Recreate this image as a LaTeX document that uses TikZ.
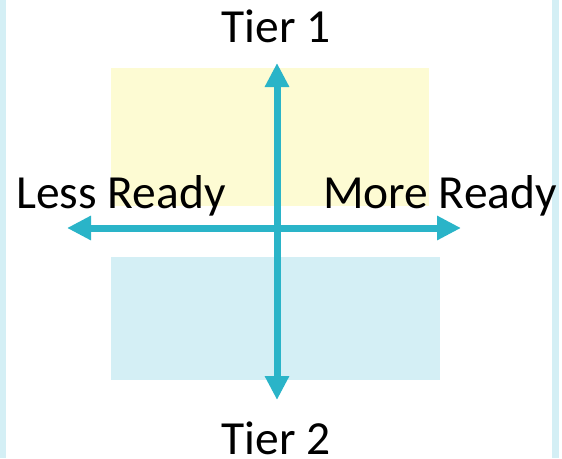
\documentclass[tikz,border=0pt]{standalone}
\usepackage{fontspec}
\setmainfont{Carlito}
\usetikzlibrary{arrows.meta}
\definecolor{axisteal}{RGB}{42,180,200}
\definecolor{paleyellow}{RGB}{253,251,211}
\definecolor{paleblue}{RGB}{212,239,245}
\tikzset{
  axis/.style={draw=axisteal, line width=7pt,
    {Triangle[length=24pt,width=23pt]}-{Triangle[length=24pt,width=23pt]}},
  label/.style={inner sep=0pt, font=\fontsize{47.5}{56}\selectfont}
}
\begin{document}
\begin{tikzpicture}[x=1pt,y=-1pt]
  \useasboundingbox (0,0) rectangle (562,458);
  % side bands of the frame
  \fill[paleblue] (0,0) rectangle (6,458);
  \fill[paleblue] (552,0) rectangle (559,458);
  % quadrant shading
  \fill[paleyellow] (111,68) rectangle (429,206);
  \fill[paleblue] (111,257) rectangle (440,380);
  % labels
  \node[label, anchor=base] (tierone) at (276,42) {Tier 1};
  \node[label, anchor=base] (tiertwo) at (276,454) {Tier 2};
  \node[label, anchor=base west] (less) at (16,208) {Less Ready};
  \node[label, anchor=base east] (more) at (557,208) {More Ready};
  % axis end points
  \coordinate (top) at (277,63);
  \coordinate (bottom) at (277,400);
  \coordinate (left) at (67,228);
  \coordinate (right) at (461,228);
  % axes
  \draw[axis] (left) -- (right);
  \draw[axis] (bottom) -- (top);
\end{tikzpicture}
\end{document}
